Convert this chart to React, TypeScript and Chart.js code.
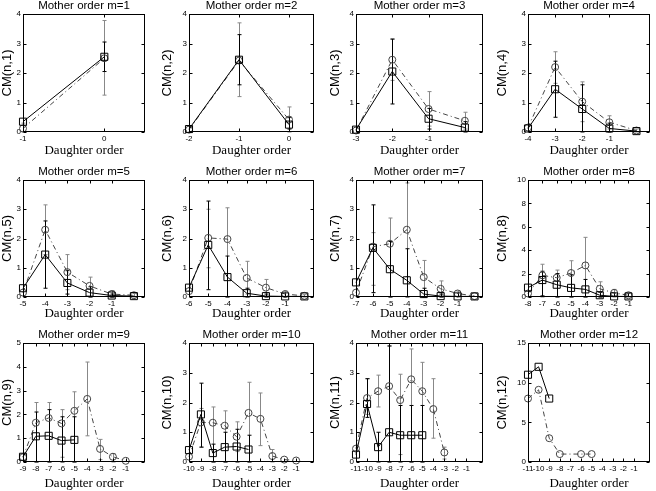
import React, { useEffect, useRef } from "react";
import { Chart, registerables } from "chart.js";
Chart.register(...registerables);

type Bar = [number, number] | null;

// ---- Data ----
const m1X = [-1, 0];
const m1Sq = [0.35, 2.55];
const m1Ci = [0.12, 2.5];
const m1SqErr: Bar[] = [null, [2.05, 3.05]];
const m1CiErr: Bar[] = [[0.0, 0.3], [1.25, 3.78]];

const m2X = [-2, -1, 0];
const m2Sq = [0.1, 2.45, 0.25];
const m2Ci = [0.08, 2.42, 0.42];
const m2SqErr: Bar[] = [null, [1.6, 3.3], [0.1, 0.5]];
const m2CiErr: Bar[] = [[0, 0.2], [1.2, 3.7], [0, 0.85]];

const m3X = [-3, -2, -1, 0];
const m3Sq = [0.08, 2.05, 0.45, 0.15];
const m3Ci = [0.05, 2.45, 0.78, 0.38];
const m3SqErr: Bar[] = [null, [0.95, 3.15], [0.1, 0.8], [0, 0.35]];
const m3CiErr: Bar[] = [null, [1.75, 3.15], [0.2, 1.37], [0.1, 0.67]];

const m4X = [-4, -3, -2, -1, 0];
const m4Sq = [0.12, 1.45, 0.78, 0.12, 0.03];
const m4Ci = [0.15, 2.2, 1.03, 0.33, 0.05];
const m4SqErr: Bar[] = [null, [0.5, 2.4], [0, 1.6], [0, 0.3], null];
const m4CiErr: Bar[] = [null, [1.65, 2.72], [0.35, 1.7], [0.1, 0.55], [0, 0.1]];

const m5X = [-5, -4, -3, -2, -1, 0];
const m5Sq = [0.3, 1.45, 0.48, 0.15, 0.05, 0.03];
const m5Ci = [0.15, 2.3, 0.85, 0.38, 0.1, 0.06];
const m5SqErr: Bar[] = [null, [0.3, 2.6], [0.1, 0.9], [0, 0.35], [0, 0.1], null];
const m5CiErr: Bar[] = [null, [1.45, 3.15], [0.25, 1.45], [0, 0.68], [0, 0.22], [0, 0.12]];

const m6X = [-6, -5, -4, -3, -2, -1, 0];
const m6Sq = [0.32, 1.78, 0.68, 0.13, 0.03, 0.02, 0.02];
const m6Ci = [0.2, 2.02, 1.98, 0.65, 0.32, 0.1, 0.04];
const m6SqErr: Bar[] = [null, [0.25, 3.28], [0, 1.4], [0, 0.3], [0, 0.1], null, null];
const m6CiErr: Bar[] = [null, [1.0, 3.0], [0, 3.05], [0.1, 1.22], [0, 0.6], [0, 0.2], [0, 0.08]];

const m7X = [-7, -6, -5, -4, -3, -2, -1, 0];
const m7Sq = [0.5, 1.68, 0.95, 0.57, 0.1, 0.03, 0.02, 0.02];
const m7Ci = [0.15, 1.72, 1.82, 2.3, 0.68, 0.28, 0.12, 0.03];
const m7SqErr: Bar[] = [null, [0.15, 3.15], [0, 1.9], [0, 1.65], [0, 0.3], [0, 0.1], null, null];
const m7CiErr: Bar[] = [null, [0.4, 2.2], [0, 2.7], [0.7, 3.9], [0, 1.25], [0, 0.55], [0, 0.2], null];

const m8X = [-8, -7, -6, -5, -4, -3, -2, -1, 0];
const m8Sq = [0.8, 1.45, 1.05, 0.78, 0.65, 0.15, 0.05, 0.05, null];
const m8Ci = [0.3, 1.85, 1.65, 2.05, 2.7, 0.7, 0.35, 0.15, null];
const m8SqErr: Bar[] = [null, [0.1, 2.2], [0, 2.0], [0, 1.9], [0, 1.5], [0, 0.4], null, null, null];
const m8CiErr: Bar[] = [null, [0, 2.8], [0, 2.3], [0, 3.1], [0, 5.1], [0, 1.3], [0, 0.65], [0, 0.3], null];

const m9X = [-9, -8, -7, -6, -5, -4, -3, -2, -1, 0];
const m9Sq = [0.22, 1.08, 1.1, 0.9, 0.93, null, null, null, null, null];
const m9Ci = [0.2, 1.65, 1.85, 1.62, 2.15, 2.65, 0.55, 0.22, 0.05, null];
const m9SqErr: Bar[] = [null, [0, 2.1], [0, 2.2], [0, 1.9], [0, 1.9], null, null, null, null, null];
const m9CiErr: Bar[] = [null, [0, 2.5], [0, 2.5], [0.2, 2.2], [0, 2.95], [1.1, 4.2], [0.1, 0.95], [0, 0.35], null, null];

const m10X = [-10, -9, -8, -7, -6, -5, -4, -3, -2, -1, 0];
const m10Sq = [0.4, 1.6, 0.3, 0.5, 0.52, 0.42, null, null, null, null, null];
const m10Ci = [0.18, 1.33, 1.32, 1.22, 0.85, 1.65, 1.45, 0.2, 0.08, 0.05, null];
const m10SqErr: Bar[] = [null, [0.5, 2.65], [0, 0.6], [0, 1.0], [0, 1.1], [0, 0.9], null, null, null, null, null];
const m10CiErr: Bar[] = [null, [0.5, 1.8], [0, 1.85], [0, 1.72], [0.35, 1.35], [0, 2.68], [0.55, 2.32], [0, 0.42], null, null, null];

const m11X = [-11, -10, -9, -8, -7, -6, -5, -4, -3, -2, -1, 0];
const m11Sq = [0.25, 1.95, 0.5, 1.0, 0.9, 0.9, 0.9, null, null, null, null, null];
const m11Ci = [0.45, 2.15, 2.38, 2.55, 2.08, 2.78, 2.38, 1.78, 0.32, null, null, null];
const m11SqErr: Bar[] = [null, [1.5, 2.8], [0, 1.0], [0, 3.9], [0, 1.9], [0, 1.9], [0, 1.9], null, null, null, null, null];
const m11CiErr: Bar[] = [null, [1.6, 2.8], [1.85, 2.92], [0, 3.9], [0.25, 2.95], [0, 3.8], [0, 3.35], [0.8, 2.8], [0.1, 0.5], null, null, null];

const m12X = [-11, -10, -9, -8, -7, -6, -5, -4, -3, -2, -1, 0];
const m12Sq = [11, 12, 8, null, null, null, null, null, null, null, null, null];
const m12Ci = [8, 9.1, 3, 1, null, 1, 1, null, null, null, null, null];
const m12SqErr: Bar[] = [];
const m12CiErr: Bar[] = [];

const yMaxes = [4, 4, 4, 4, 4, 4, 4, 10, 5, 4, 4, 15];
const ySteps = [1, 1, 1, 1, 1, 1, 1, 2, 1, 1, 1, 5];

const panels = [
  { m: 1, x: m1X, sq: m1Sq, ci: m1Ci, sqErr: m1SqErr, ciErr: m1CiErr },
  { m: 2, x: m2X, sq: m2Sq, ci: m2Ci, sqErr: m2SqErr, ciErr: m2CiErr },
  { m: 3, x: m3X, sq: m3Sq, ci: m3Ci, sqErr: m3SqErr, ciErr: m3CiErr },
  { m: 4, x: m4X, sq: m4Sq, ci: m4Ci, sqErr: m4SqErr, ciErr: m4CiErr },
  { m: 5, x: m5X, sq: m5Sq, ci: m5Ci, sqErr: m5SqErr, ciErr: m5CiErr },
  { m: 6, x: m6X, sq: m6Sq, ci: m6Ci, sqErr: m6SqErr, ciErr: m6CiErr },
  { m: 7, x: m7X, sq: m7Sq, ci: m7Ci, sqErr: m7SqErr, ciErr: m7CiErr },
  { m: 8, x: m8X, sq: m8Sq, ci: m8Ci, sqErr: m8SqErr, ciErr: m8CiErr },
  { m: 9, x: m9X, sq: m9Sq, ci: m9Ci, sqErr: m9SqErr, ciErr: m9CiErr },
  { m: 10, x: m10X, sq: m10Sq, ci: m10Ci, sqErr: m10SqErr, ciErr: m10CiErr },
  { m: 11, x: m11X, sq: m11Sq, ci: m11Ci, sqErr: m11SqErr, ciErr: m11CiErr },
  { m: 12, x: m12X, sq: m12Sq, ci: m12Ci, sqErr: m12SqErr, ciErr: m12CiErr },
];

// ---- Layout ----
const COL_L = [23, 189, 356, 528];
const COL_W = [127, 130, 132, 127];
const COL_YW = [23, 29, 28, 33];
const ROW_T = [14, 180, 343];
const ROW_H = [118, 117, 119];
const ROW_XH = [26, 24, 29];
const TITLE_H = 15;
const RIGHT_PAD = 1;

const SANS = "'Liberation Sans', Arial, sans-serif";
const SERIF = "'Liberation Serif', 'Times New Roman', serif";

const decor = {
  id: "decor",
  beforeDatasetsDraw(chart: any, _a: any, opts: any) {
    const { ctx } = chart;
    const xs = chart.scales.x;
    const ys = chart.scales.y;
    ctx.save();
    for (const grp of opts.bars || []) {
      ctx.strokeStyle = grp.color;
      ctx.lineWidth = grp.width;
      grp.xs.forEach((xv: number, i: number) => {
        const b = grp.err[i];
        if (!b) return;
        const px = Math.round(xs.getPixelForValue(xv)) + 0.5;
        const p1 = ys.getPixelForValue(b[0]);
        const p2 = ys.getPixelForValue(b[1]);
        ctx.beginPath();
        ctx.moveTo(px, p1);
        ctx.lineTo(px, p2);
        ctx.moveTo(px - 2, p1);
        ctx.lineTo(px + 2, p1);
        ctx.moveTo(px - 2, p2);
        ctx.lineTo(px + 2, p2);
        ctx.stroke();
      });
    }
    ctx.restore();
  },
  afterDraw(chart: any) {
    const { ctx, chartArea } = chart;
    const l = Math.round(chartArea.left) + 0.5;
    const r = Math.round(chartArea.right) - 0.5;
    const t = Math.round(chartArea.top) + 0.5;
    const b = Math.round(chartArea.bottom) - 0.5;
    ctx.save();
    ctx.strokeStyle = "#000";
    ctx.lineWidth = 1;
    ctx.strokeRect(l, t, r - l, b - t);
    const TL = 3;
    ctx.beginPath();
    for (const tk of chart.scales.x.ticks) {
      const px = Math.round(chart.scales.x.getPixelForValue(tk.value)) + 0.5;
      ctx.moveTo(px, b);
      ctx.lineTo(px, b - TL);
      ctx.moveTo(px, t);
      ctx.lineTo(px, t + TL);
    }
    for (const tk of chart.scales.y.ticks) {
      const py = Math.round(chart.scales.y.getPixelForValue(tk.value)) + 0.5;
      ctx.moveTo(l, py);
      ctx.lineTo(l + TL, py);
      ctx.moveTo(r, py);
      ctx.lineTo(r - TL, py);
    }
    ctx.stroke();
    ctx.restore();
  },
};

function pts(xs: number[], ys: (number | null)[]) {
  const out: { x: number; y: number }[] = [];
  xs.forEach((x, i) => {
    const y = ys[i];
    if (y !== null && y !== undefined) out.push({ x, y });
  });
  return out;
}

function Panel({ idx }: { idx: number }) {
  const ref = useRef<HTMLCanvasElement>(null);
  const p = panels[idx];
  const col = idx % 4;
  const row = Math.floor(idx / 4);
  const yw = COL_YW[col];
  const xh = ROW_XH[row];
  const w = yw + COL_W[col] + RIGHT_PAD;
  const h = TITLE_H + ROW_H[row] + xh;
  const left = COL_L[col] - yw;
  const top = ROW_T[row] - TITLE_H;

  useEffect(() => {
    if (!ref.current) return;
    const xMin = p.x[0];
    const chart = new Chart(ref.current, {
      type: "line",
      data: {
        datasets: [
          {
            label: "sq",
            data: pts(p.x, p.sq),
            borderColor: "#000",
            borderWidth: 1,
            pointStyle: "rect",
            pointRadius: 5,
            pointBorderColor: "#000",
            pointBackgroundColor: "rgba(0,0,0,0)",
            pointBorderWidth: 1,
            fill: false,
            tension: 0,
            clip: false,
          },
          {
            label: "ci",
            data: pts(p.x, p.ci),
            borderColor: "#444",
            borderWidth: 1,
            borderDash: [5, 3, 1, 3],
            pointStyle: "circle",
            pointRadius: 3.5,
            pointBorderColor: "#444",
            pointBackgroundColor: "rgba(0,0,0,0)",
            pointBorderWidth: 1,
            fill: false,
            tension: 0,
            clip: false,
          },
        ] as any,
      },
      options: {
        responsive: false,
        animation: false,
        devicePixelRatio: 1,
        layout: { padding: { left: 0, right: RIGHT_PAD, top: 0, bottom: 0 } },
        scales: {
          x: {
            type: "linear",
            min: xMin,
            max: 0.5,
            afterBuildTicks: (s: any) => {
              s.ticks = s.ticks.filter((t: any) => Number.isInteger(t.value));
            },
            afterFit: (s: any) => {
              s.height = xh;
            },
            grid: { display: false, drawTicks: false },
            border: { display: false },
            ticks: {
              stepSize: 1,
              padding: 2,
              maxRotation: 0,
              autoSkip: false,
              color: "#000",
              font: { family: SANS, size: 8, lineHeight: "10px" },
            },
            title: {
              display: true,
              text: "Daughter order",
              color: "#000",
              padding: 0,
              font: { family: SERIF, size: 13, lineHeight: "14px" },
            },
          },
          y: {
            type: "linear",
            min: 0,
            max: yMaxes[idx],
            afterFit: (s: any) => {
              s.width = yw;
            },
            grid: { display: false, drawTicks: false },
            border: { display: false },
            ticks: {
              stepSize: ySteps[idx],
              padding: 2,
              color: "#000",
              font: { family: SANS, size: 8, lineHeight: "10px" },
            },
            title: {
              display: true,
              text: `CM(n,${p.m})`,
              color: "#000",
              padding: 0,
              font: { family: SANS, size: 13, lineHeight: "14px" },
            },
          },
        },
        plugins: {
          legend: { display: false },
          tooltip: { enabled: false },
          title: {
            display: true,
            text: `Mother order m=${p.m}`,
            color: "#000",
            fullSize: false,
            padding: { top: 0, bottom: 1 },
            font: { family: SANS, size: 11.5, weight: "normal", lineHeight: "14px" },
          },
          decor: {
            bars: [
              { color: "#888", width: 1, xs: p.x, err: p.ciErr },
              { color: "#000", width: 1, xs: p.x, err: p.sqErr },
            ],
          },
        } as any,
      },
      plugins: [decor as any],
    });
    return () => chart.destroy();
  }, []);

  return (
    <canvas
      ref={ref}
      width={w}
      height={h}
      style={{ position: "absolute", left, top, width: w, height: h, display: "block" }}
    />
  );
}

export default function App() {
  return (
    <div
      style={{
        position: "absolute",
        left: 0,
        top: 0,
        width: 656,
        height: 491,
        background: "#fff",
        overflow: "hidden",
      }}
    >
      {panels.map((_, i) => (
        <Panel key={i} idx={i} />
      ))}
    </div>
  );
}
